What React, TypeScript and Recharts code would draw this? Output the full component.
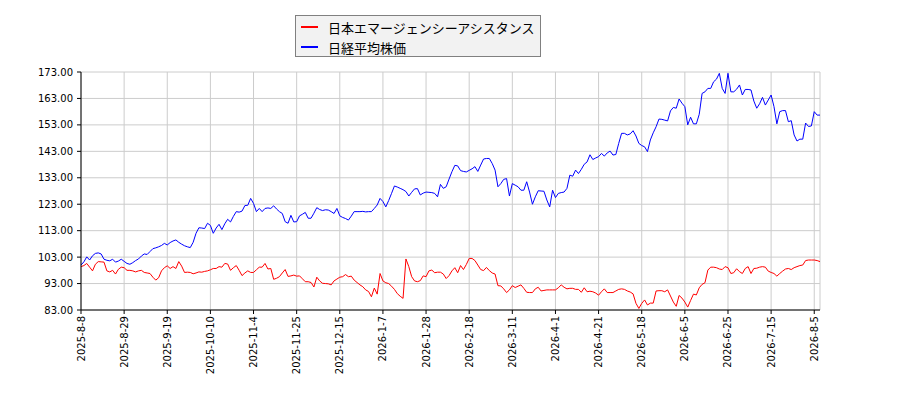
import React from 'react';
import { LineChart, Line, XAxis, YAxis, CartesianGrid } from 'recharts';

// Tick labels on the date axis (every 15th trading day)
const tickLabels = [
  '2025-8-8', '2025-8-29', '2025-9-19', '2025-10-10', '2025-11-4', '2025-11-25',
  '2025-12-15', '2026-1-7', '2026-1-28', '2026-2-18', '2026-3-11', '2026-4-1',
  '2026-4-21', '2026-5-18', '2026-6-5', '2026-6-25', '2026-7-15', '2026-8-5',
];

// 日本エマージェンシーアシスタンス (red)
const stockPrices = [
  99.4, 99.8, 100.6, 99.2, 97.8, 100.3, 101.3, 101.2, 101.1, 97.8,
  97.4, 98.0, 96.6, 98.4, 99.2, 99.0, 98.0, 98.0, 97.8, 97.4,
  97.8, 98.0, 97.2, 97.0, 96.8, 95.4, 94.3, 95.2, 97.8, 99.0,
  99.7, 98.7, 99.4, 98.7, 101.3, 99.6, 97.2, 97.3, 97.2, 96.7,
  97.0, 97.4, 97.3, 97.6, 97.8, 98.2, 98.7, 98.7, 99.4, 99.2,
  100.6, 100.4, 98.0, 99.0, 99.8, 98.0, 96.0, 97.0, 97.8, 97.2,
  97.2, 98.2, 99.2, 99.2, 100.6, 98.5, 98.7, 94.6, 95.0, 95.6,
  97.0, 98.3, 95.7, 95.9, 96.2, 95.8, 95.9, 94.8, 93.7, 93.7,
  93.4, 91.7, 95.4, 94.0, 93.1, 93.0, 92.9, 92.5, 94.0, 94.7,
  95.4, 95.6, 96.4, 95.6, 95.8, 94.3, 93.4, 92.5, 91.8, 90.6,
  90.0, 88.0, 91.3, 89.0, 96.8, 94.0, 93.3, 93.0, 92.0, 90.8,
  89.2, 88.2, 87.4, 102.3, 99.4, 95.6, 94.0, 93.7, 94.1, 95.9,
  95.6, 97.8, 98.1, 97.1, 97.3, 97.3, 96.6, 94.9, 96.0, 97.8,
  99.0, 97.1, 99.8, 98.3, 100.2, 102.5, 102.5, 101.7, 100.0, 98.3,
  97.9, 99.1, 97.9, 97.0, 96.6, 92.2, 92.1, 91.0, 89.6, 90.6,
  92.2, 91.5, 92.0, 92.5, 91.2, 89.7, 89.6, 89.6, 91.0, 91.6,
  90.2, 90.4, 90.6, 90.6, 90.6, 90.6, 91.4, 92.5, 91.6, 91.0,
  91.2, 91.2, 90.8, 90.8, 89.7, 91.4, 89.9, 90.1, 89.9, 89.4,
  88.6, 89.9, 91.0, 89.6, 89.6, 89.6, 90.2, 90.8, 91.0, 90.8,
  90.2, 89.8, 89.1, 85.5, 83.6, 85.5, 86.8, 84.9, 85.6, 85.6,
  90.2, 90.3, 90.3, 89.9, 90.6, 88.3, 86.0, 84.4, 88.5, 87.5,
  86.0, 84.1, 86.6, 89.0, 88.7, 91.4, 92.7, 93.3, 98.1, 99.2,
  99.2, 99.0, 98.5, 98.3, 99.4, 99.0, 96.8, 97.1, 98.6, 97.5,
  96.8, 98.7, 99.4, 96.8, 98.7, 98.8, 99.2, 99.4, 99.2, 97.7,
  97.2, 96.8, 95.8, 96.8, 97.7, 98.5, 98.7, 98.3, 99.0, 99.4,
  99.8, 100.0, 101.7, 101.9, 101.9, 101.9, 101.7, 101.3,
];

// 日経平均株価 (blue)
const nikkeiIndex = [
  100.0, 101.2, 103.1, 101.9, 103.5, 104.4, 104.6, 104.2, 102.2, 101.8,
  101.6, 102.2, 101.1, 101.5, 102.2, 101.4, 100.6, 100.3, 100.9, 101.7,
  102.3, 103.4, 104.2, 104.0, 105.1, 106.2, 106.5, 106.9, 107.4, 108.2,
  107.6, 108.5, 109.1, 109.5, 108.6, 107.9, 107.3, 106.9, 106.6, 108.6,
  112.0, 114.1, 114.0, 113.8, 115.8, 115.0, 112.0, 114.0, 115.4, 113.4,
  115.6, 117.3, 116.3, 118.4, 120.2, 120.0, 120.4, 122.5, 122.6, 125.2,
  123.3, 120.2, 121.4, 120.2, 121.4, 121.6, 121.4, 122.4, 121.2, 120.2,
  119.5, 116.4, 115.8, 118.8, 116.3, 116.4, 118.6, 119.2, 119.9, 117.7,
  117.7, 119.6, 121.7, 121.0, 120.6, 120.9, 120.8, 120.2, 119.5, 121.4,
  118.6, 118.0, 117.6, 117.0, 118.5, 120.2, 120.2, 120.2, 120.3, 120.1,
  120.2, 120.2, 121.4, 122.7, 125.2, 124.0, 122.0, 124.4, 127.1, 129.9,
  129.5, 129.0, 128.5, 127.8, 126.1, 127.5, 128.8, 128.9, 126.5, 127.2,
  127.6, 127.5, 127.4, 127.1, 125.8, 130.5, 129.0, 129.6, 132.5, 135.3,
  137.7, 137.5, 135.7, 135.4, 135.2, 135.8, 136.4, 137.2, 135.4, 137.8,
  140.1, 140.3, 140.3, 138.4, 135.9, 129.6, 130.8, 132.4, 132.7, 126.1,
  130.8, 130.2, 129.6, 128.3, 128.3, 131.5, 127.6, 123.0, 125.8, 128.1,
  128.0, 127.9, 124.6, 122.0, 128.3, 125.5, 127.1, 127.4, 127.6, 129.0,
  134.0, 133.6, 135.9, 134.6, 136.2, 138.1, 139.0, 141.7, 139.9, 140.5,
  141.0, 142.2, 141.2, 142.4, 143.1, 141.6, 141.8, 146.0, 149.8, 149.8,
  149.2, 149.6, 150.8, 148.8, 146.0, 145.2, 144.7, 142.9, 147.3, 150.0,
  152.3, 155.2, 155.1, 154.8, 154.5, 158.3, 159.6, 159.3, 162.8, 161.2,
  159.9, 153.0, 155.9, 153.4, 153.4, 157.0, 164.9, 165.5, 166.8, 166.8,
  169.3, 170.3, 172.5, 166.8, 164.9, 172.5, 165.5, 165.5, 166.5, 168.1,
  164.3, 166.4, 166.4, 166.2, 162.0, 159.3, 161.0, 163.4, 160.5, 162.4,
  164.3, 159.9, 153.4, 158.0, 158.4, 158.4, 154.2, 154.6, 149.2, 146.9,
  147.6, 147.6, 153.7, 152.4, 152.6, 158.0, 156.7, 156.7,
];

const yTicks = [83, 93, 103, 113, 123, 133, 143, 153, 163, 173];
const TICK_STEP = 15;

function addWeekdays(label: string, n: number): string {
  const [y, m, d] = label.split('-').map(Number);
  const dt = new Date(Date.UTC(y, m - 1, d));
  let c = 0;
  while (c < n) {
    dt.setUTCDate(dt.getUTCDate() + 1);
    const wd = dt.getUTCDay();
    if (wd !== 0 && wd !== 6) c++;
  }
  return `${dt.getUTCFullYear()}-${dt.getUTCMonth() + 1}-${dt.getUTCDate()}`;
}

const dates: string[] = stockPrices.map((_, i) => {
  const k = Math.floor(i / TICK_STEP);
  const j = i % TICK_STEP;
  return j === 0 ? tickLabels[k] : addWeekdays(tickLabels[k], j);
});

const tickIdx = tickLabels.map((_, k) => k * TICK_STEP);

const rows = dates.map((date, i) => ({
  idx: i,
  date,
  stock: stockPrices[i],
  nikkei: nikkeiIndex[i],
}));

const FONT = '"DejaVu Sans", sans-serif';

const RotTick = (props: any) => {
  const { x, y, payload } = props;
  return (
    <text
      x={x}
      y={y}
      transform={`rotate(-90, ${x}, ${y})`}
      textAnchor="end"
      dominantBaseline="central"
      fontSize={10}
      fontFamily={FONT}
      fill="#000"
    >
      {dates[payload.value]}
    </text>
  );
};

const legendItems = [
  { label: '日本エマージェンシーアシスタンス', color: '#ff0000' },
  { label: '日経平均株価', color: '#0000ff' },
];

export default function App() {
  return (
    <div style={{ position: 'absolute', left: 0, top: 0, width: 900, height: 400, background: '#fff' }}>
      <LineChart width={900} height={400} data={rows} margin={{ top: 72, right: 80, bottom: 0, left: 8 }}>
        <CartesianGrid stroke="#cccccc" strokeWidth={1} />
        <XAxis
          dataKey="idx"
          type="number"
          domain={[0, stockPrices.length - 1]}
          ticks={tickIdx}
          interval={0}
          height={90}
          tickSize={4}
          tickMargin={2}
          stroke="#000"
          tick={<RotTick />}
        />
        <YAxis
          type="number"
          domain={[83, 173]}
          ticks={yTicks}
          interval={0}
          width={73}
          tickSize={4}
          tickMargin={4}
          stroke="#000"
          tickFormatter={(v: number) => v.toFixed(2)}
          tick={{ fontSize: 10, fill: '#000', fontFamily: FONT }}
        />
        <Line type="linear" dataKey="stock" stroke="#ff0000" strokeWidth={1} dot={false} isAnimationActive={false} />
        <Line type="linear" dataKey="nikkei" stroke="#0000ff" strokeWidth={1} dot={false} isAnimationActive={false} />
      </LineChart>
      <div
        style={{
          position: 'absolute',
          left: 295,
          top: 15,
          width: 244,
          height: 40,
          background: '#f2f2f2',
          border: '1px solid #808080',
          boxSizing: 'content-box',
          fontFamily: '"Noto Sans CJK JP", sans-serif',
          fontSize: 13,
          color: '#000',
        }}
      >
        {legendItems.map((it, i) => (
          <div
            key={it.label}
            style={{ position: 'absolute', left: 0, top: 2 + i * 20, height: 18, display: 'flex', alignItems: 'center', whiteSpace: 'nowrap' }}
          >
            <span style={{ display: 'inline-block', width: 17, height: 2, background: it.color, marginLeft: 5, marginRight: 10 }} />
            <span>{it.label}</span>
          </div>
        ))}
      </div>
    </div>
  );
}
